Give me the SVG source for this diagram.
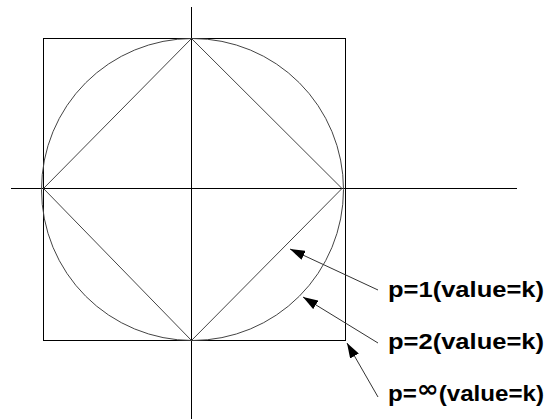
<svg xmlns="http://www.w3.org/2000/svg" width="556" height="419" viewBox="0 0 556 419">
<style>
.ln{fill:none;stroke:#000;stroke-width:1}
.sh{fill:none;stroke:#444;stroke-width:1}
.lbl{font-family:"Liberation Sans",Arial,sans-serif;font-weight:bold;font-size:22px;fill:#000}
.inf{font-family:"DejaVu Sans",sans-serif;font-size:24px;font-weight:bold}
.arr{stroke:#333;stroke-width:1;fill:none;marker-end:url(#ah)}
</style>
<defs>
<marker id="ah" viewBox="0 0 15 10" refX="15" refY="5" markerWidth="15" markerHeight="10" markerUnits="userSpaceOnUse" orient="auto">
<path d="M0,0 L15,5 L0,10 Z" fill="#000"/>
</marker>
</defs>
<g id="axes">
<line class="ln" x1="191.5" y1="7" x2="191.5" y2="419"/>
<line class="ln" x1="11" y1="188.5" x2="517" y2="188.5"/>
</g>
<g id="square"><rect class="ln" x="43.5" y="38.5" width="302" height="302"/></g>
<g id="circle"><circle class="sh" cx="192.5" cy="189.5" r="151"/></g>
<g id="diamond"><polygon class="sh" points="191.5,38.5 342,188.5 191.5,340.5 43.5,188.5"/></g>
<g id="connectors">
<line class="arr" x1="378" y1="290" x2="290" y2="249"/>
<line class="arr" x1="378" y1="343" x2="303" y2="297"/>
<line class="arr" x1="378" y1="397" x2="347" y2="343"/>
</g>
<g id="label-p1"><text class="lbl" x="388" y="297" textLength="156" lengthAdjust="spacingAndGlyphs">p=1(value=k)</text></g>
<g id="label-p2"><text class="lbl" x="388" y="349" textLength="156" lengthAdjust="spacingAndGlyphs">p=2(value=k)</text></g>
<g id="label-pinf"><text class="lbl" x="388" y="401" textLength="156" lengthAdjust="spacingAndGlyphs">p=<tspan class="inf" dy="-4">∞</tspan><tspan dy="4">(value=k)</tspan></text></g>
</svg>
